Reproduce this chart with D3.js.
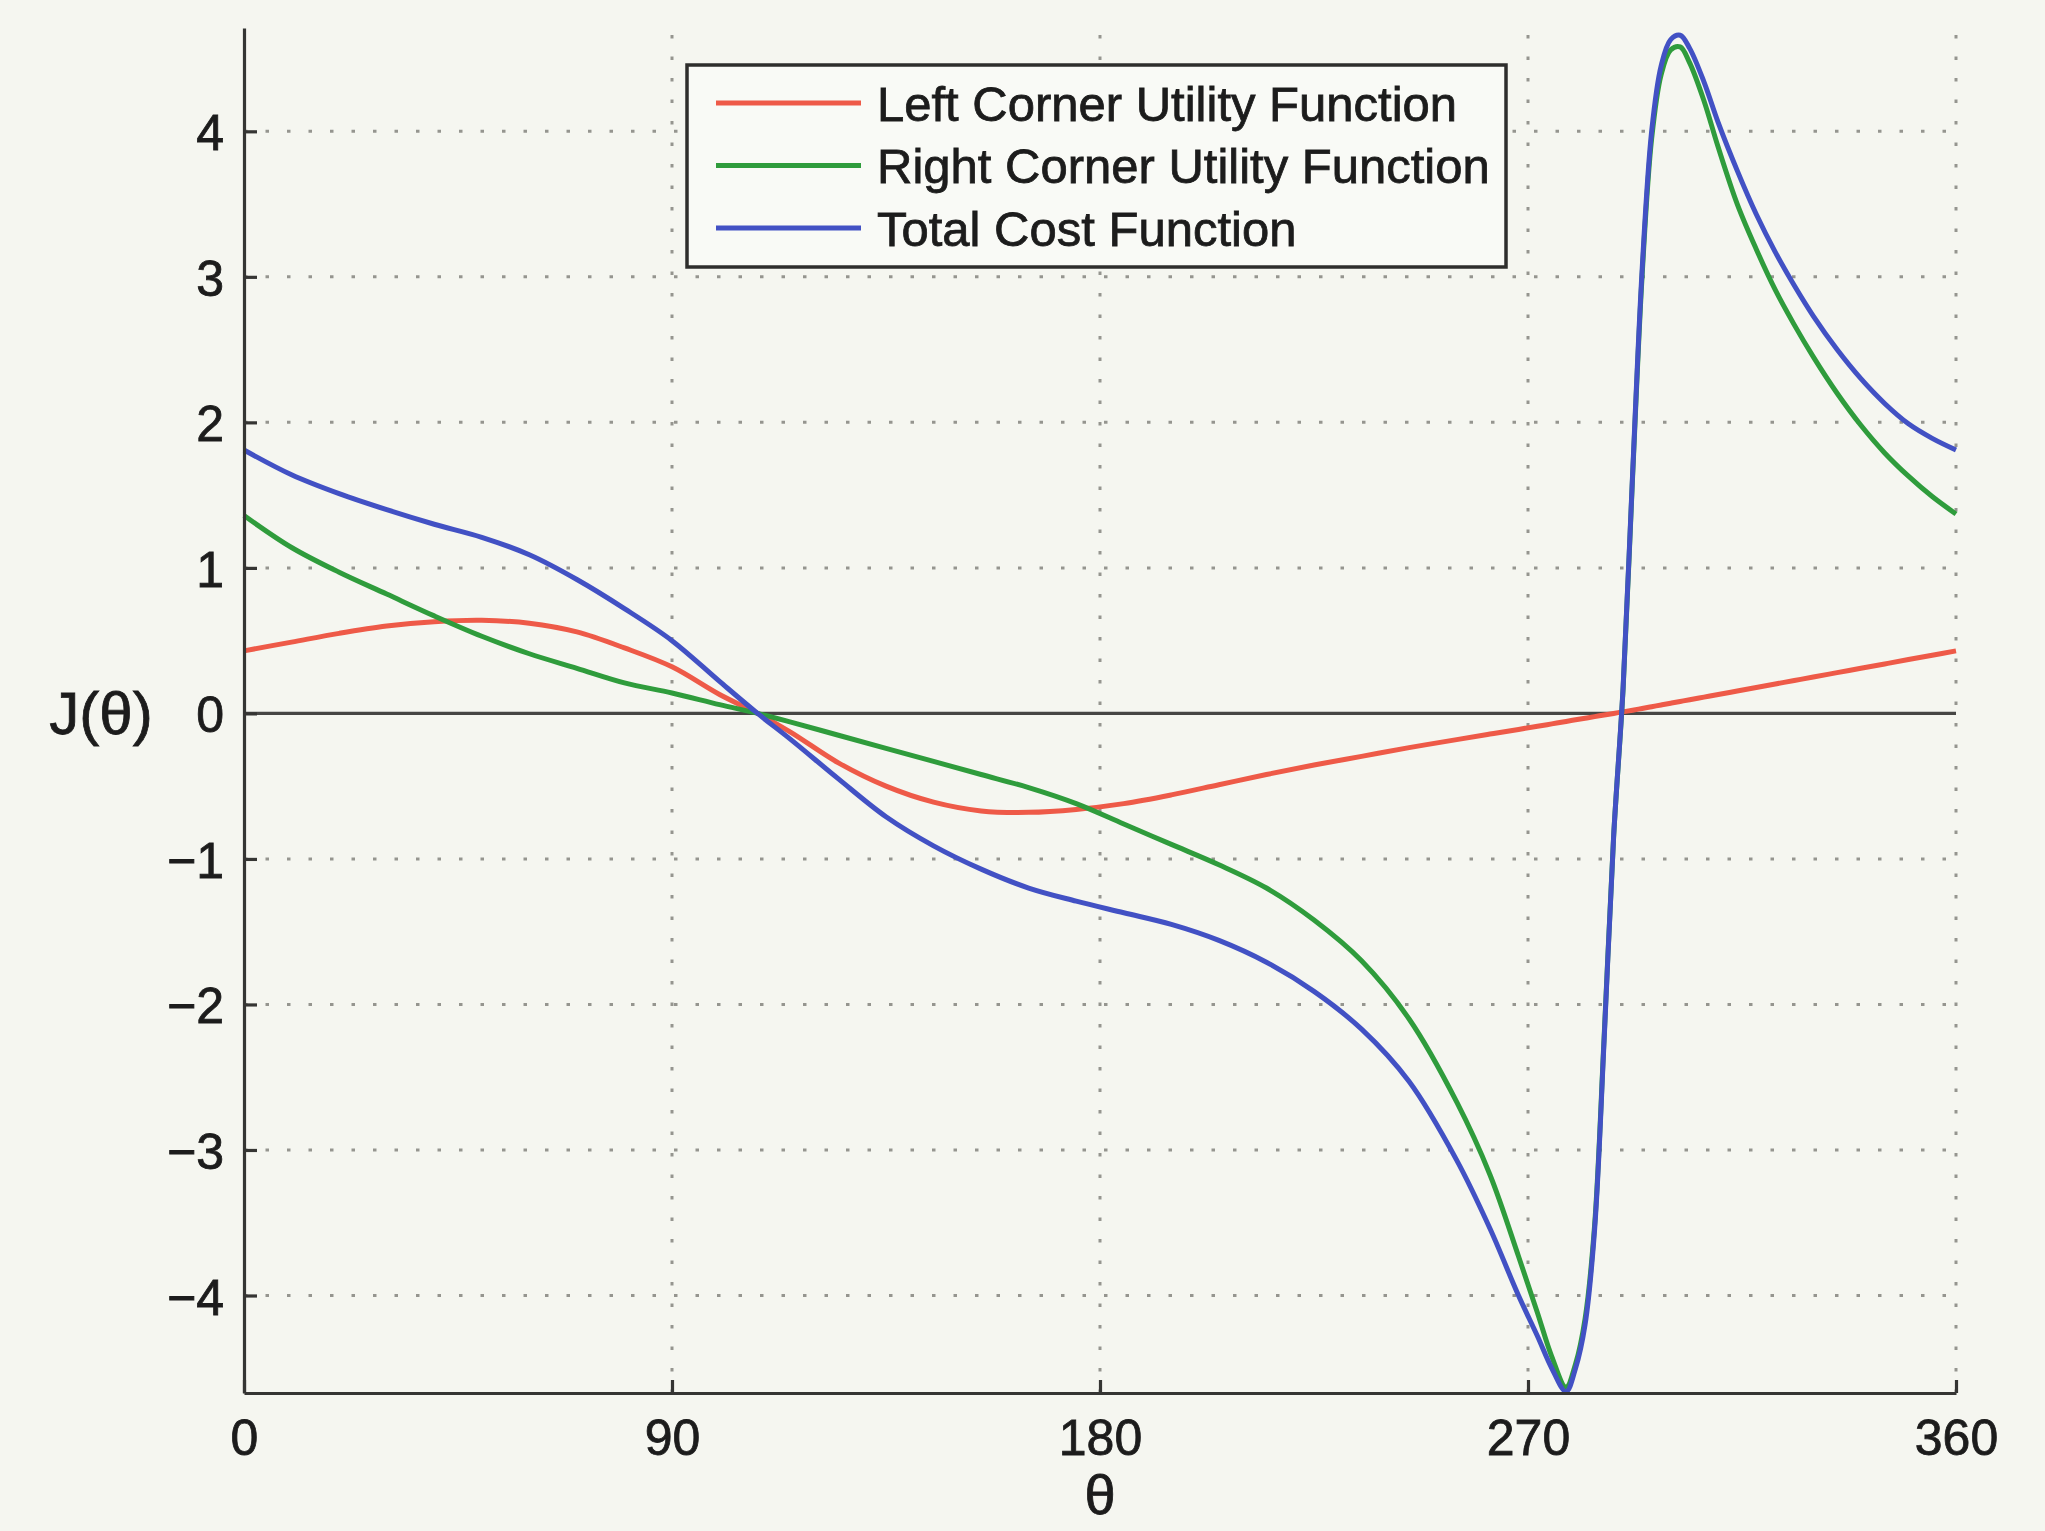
<!DOCTYPE html>
<html lang="en">
<head>
    <meta charset="UTF-8">
    <title>J(theta)</title>
    <script src="https://cdn.jsdelivr.net/npm/d3@7/dist/d3.min.js"></script>
    <style>
        body { margin: 0; background: #f5f6f0; }
        text { font-family: "Liberation Sans", Arial, Helvetica, sans-serif; fill: #1c1c1c; }
    </style>
</head>
<body>
<script>

    // angle samples (deg), denser around the spike
    var theta = [0, 10, 20, 30, 40, 50, 60, 70, 80, 90,
        100, 108, 115, 125, 135, 145, 155, 165, 175, 185,
        195, 205, 215, 225, 235, 245, 255, 262, 268, 272,
        275, 278, 280, 282, 284, 286, 288, 290, 292, 294,
        296, 298, 300, 302, 304, 307, 310, 314, 318, 322,
        326, 330, 335, 340, 345, 350, 355, 360];

    var leftCorner = [0.43, 0.49, 0.55, 0.60, 0.63, 0.64, 0.62, 0.56, 0.45, 0.32,
        0.13, 0.0, -0.13, -0.34, -0.50, -0.61, -0.67, -0.68, -0.66, -0.62,
        -0.56, -0.49, -0.42, -0.355, -0.295, -0.235, -0.18, -0.142, -0.11, -0.088,
        -0.072, -0.055, -0.044, -0.033, -0.022, -0.011, 0.0, 0.011, 0.022, 0.034,
        0.046, 0.058, 0.07, 0.082, 0.094, 0.112, 0.13, 0.154, 0.178, 0.202,
        0.226, 0.25, 0.28, 0.31, 0.34, 0.37, 0.40, 0.43];

    var rightCorner = [1.36, 1.14, 0.97, 0.82, 0.67, 0.53, 0.41, 0.31, 0.21, 0.14,
        0.06, 0.0, -0.06, -0.15, -0.24, -0.33, -0.42, -0.51, -0.62, -0.76,
        -0.90, -1.04, -1.20, -1.42, -1.70, -2.10, -2.67, -3.17, -3.73, -4.12,
        -4.42, -4.63, -4.47, -4.16, -3.52, -2.23, -0.85, 0.17, 1.63, 3.01,
        3.95, 4.39, 4.56, 4.58, 4.47, 4.21, 3.89, 3.50, 3.19, 2.91,
        2.67, 2.45, 2.20, 1.98, 1.79, 1.63, 1.49, 1.37];

    var totalCost = [1.81, 1.64, 1.51, 1.40, 1.30, 1.21, 1.09, 0.92, 0.72, 0.50,
        0.22, 0.0, -0.18, -0.45, -0.71, -0.91, -1.07, -1.20, -1.29, -1.37,
        -1.45, -1.56, -1.71, -1.91, -2.17, -2.53, -3.07, -3.54, -4.00, -4.28,
        -4.50, -4.66, -4.50, -4.20, -3.55, -2.25, -0.85, 0.18, 1.65, 3.05,
        4.00, 4.45, 4.63, 4.66, 4.57, 4.34, 4.06, 3.73, 3.43, 3.17,
        2.94, 2.73, 2.50, 2.30, 2.13, 1.99, 1.89, 1.81];

    var xTicks = [0, 90, 180, 270, 360];
    var yTicks = [-4, -3, -2, -1, 0, 1, 2, 3, 4];
    var yLimits = [-4.67, 4.71];

    var series = [
        {name: "Left Corner Utility Function",  color: "#ee5a48", values: leftCorner},
        {name: "Right Corner Utility Function", color: "#2f9c3c", values: rightCorner},
        {name: "Total Cost Function",           color: "#4251c4", values: totalCost}
    ];

    var width = 2045,
        height = 1531;
    var plot = {left: 244, right: 1956, top: 28, bottom: 1393};

    var x = d3.scaleLinear().domain([0, 360]).range([plot.left, plot.right]);
    var y = d3.scaleLinear().domain(yLimits).range([plot.bottom, plot.top]);

    var svg = d3.select("body").append("svg")
        .attr("width", width)
        .attr("height", height);

    svg.append("rect")
        .attr("width", width)
        .attr("height", height)
        .attr("fill", "#f5f6f0");

    // dotted grid
    var grid = svg.append("g")
        .attr("stroke", "#95958f")
        .attr("stroke-width", 3)
        .attr("stroke-dasharray", "3.5,18");
    grid.selectAll(".gy")
        .data(yTicks.filter(function (d) { return d !== 0; }))
        .enter().append("line")
        .attr("x1", x(0)).attr("x2", x(360))
        .attr("y1", function (d) { return y(d); })
        .attr("y2", function (d) { return y(d); });
    grid.selectAll(".gx")
        .data(xTicks.slice(1))
        .enter().append("line")
        .attr("y1", y(yLimits[0])).attr("y2", y(yLimits[1]))
        .attr("x1", function (d) { return x(d); })
        .attr("x2", function (d) { return x(d); });

    // zero line
    svg.append("line")
        .attr("x1", x(0)).attr("x2", x(360))
        .attr("y1", y(0)).attr("y2", y(0))
        .attr("stroke", "#464644")
        .attr("stroke-width", 3.2);

    var line = d3.line()
        .x(function (d, i) { return x(theta[i]); })
        .y(function (d) { return y(d); })
        .curve(d3.curveCatmullRom.alpha(0.5));

    svg.selectAll(".curve")
        .data(series)
        .enter().append("path")
        .attr("class", "curve")
        .attr("fill", "none")
        .attr("stroke", function (d) { return d.color; })
        .attr("stroke-width", 5)
        .attr("stroke-linejoin", "round")
        .attr("d", function (d) { return line(d.values); });

    // axes, ticks pointing inward
    var xAxis = svg.append("g")
        .attr("transform", "translate(0," + plot.bottom + ")")
        .call(d3.axisBottom(x).tickValues(xTicks).tickSizeInner(-13).tickSizeOuter(0).tickPadding(0));
    var yAxis = svg.append("g")
        .attr("transform", "translate(" + plot.left + ",0)")
        .call(d3.axisLeft(y).tickValues(yTicks).tickSizeInner(-13).tickSizeOuter(0).tickPadding(20));

    [xAxis, yAxis].forEach(function (g) {
        g.select(".domain").attr("stroke", "#353533").attr("stroke-width", 3.2);
        g.selectAll(".tick line").attr("stroke", "#353533").attr("stroke-width", 3.2);
        g.selectAll(".tick text")
            .style("font-family", "'Liberation Sans', Arial, sans-serif")
            .style("font-size", "50px")
            .attr("fill", "#1c1c1c")
            .attr("stroke", "#1c1c1c")
            .attr("stroke-width", 0.8);
    });
    xAxis.selectAll(".tick text").attr("y", 62).attr("dy", null);
    yAxis.selectAll(".tick text").attr("dy", "0.37em");

    svg.append("text")
        .attr("x", 101)
        .attr("y", 734)
        .attr("text-anchor", "middle")
        .attr("stroke", "#1c1c1c")
        .attr("stroke-width", 0.8)
        .style("font-size", "60px")
        .text("J(\u03b8)");

    svg.append("text")
        .attr("x", x(180))
        .attr("y", 1514)
        .attr("text-anchor", "middle")
        .attr("stroke", "#1c1c1c")
        .attr("stroke-width", 0.8)
        .style("font-size", "56px")
        .text("\u03b8");

    // legend
    var legend = svg.append("g");
    legend.append("rect")
        .attr("x", 687).attr("y", 65)
        .attr("width", 819).attr("height", 202)
        .attr("fill", "#f9faf6")
        .attr("stroke", "#2e2e2c")
        .attr("stroke-width", 3.5);
    var rows = legend.selectAll(".row")
        .data(series)
        .enter().append("g")
        .attr("transform", function (d, i) { return "translate(0," + (103 + i * 62.5) + ")"; });
    rows.append("line")
        .attr("x1", 716).attr("x2", 861)
        .attr("stroke", function (d) { return d.color; })
        .attr("stroke-width", 5);
    rows.append("text")
        .attr("x", 877)
        .attr("dy", "0.36em")
        .attr("stroke", "#1c1c1c")
        .attr("stroke-width", 0.8)
        .style("font-size", "49px")
        .text(function (d) { return d.name; });

</script>
</body>
</html>
